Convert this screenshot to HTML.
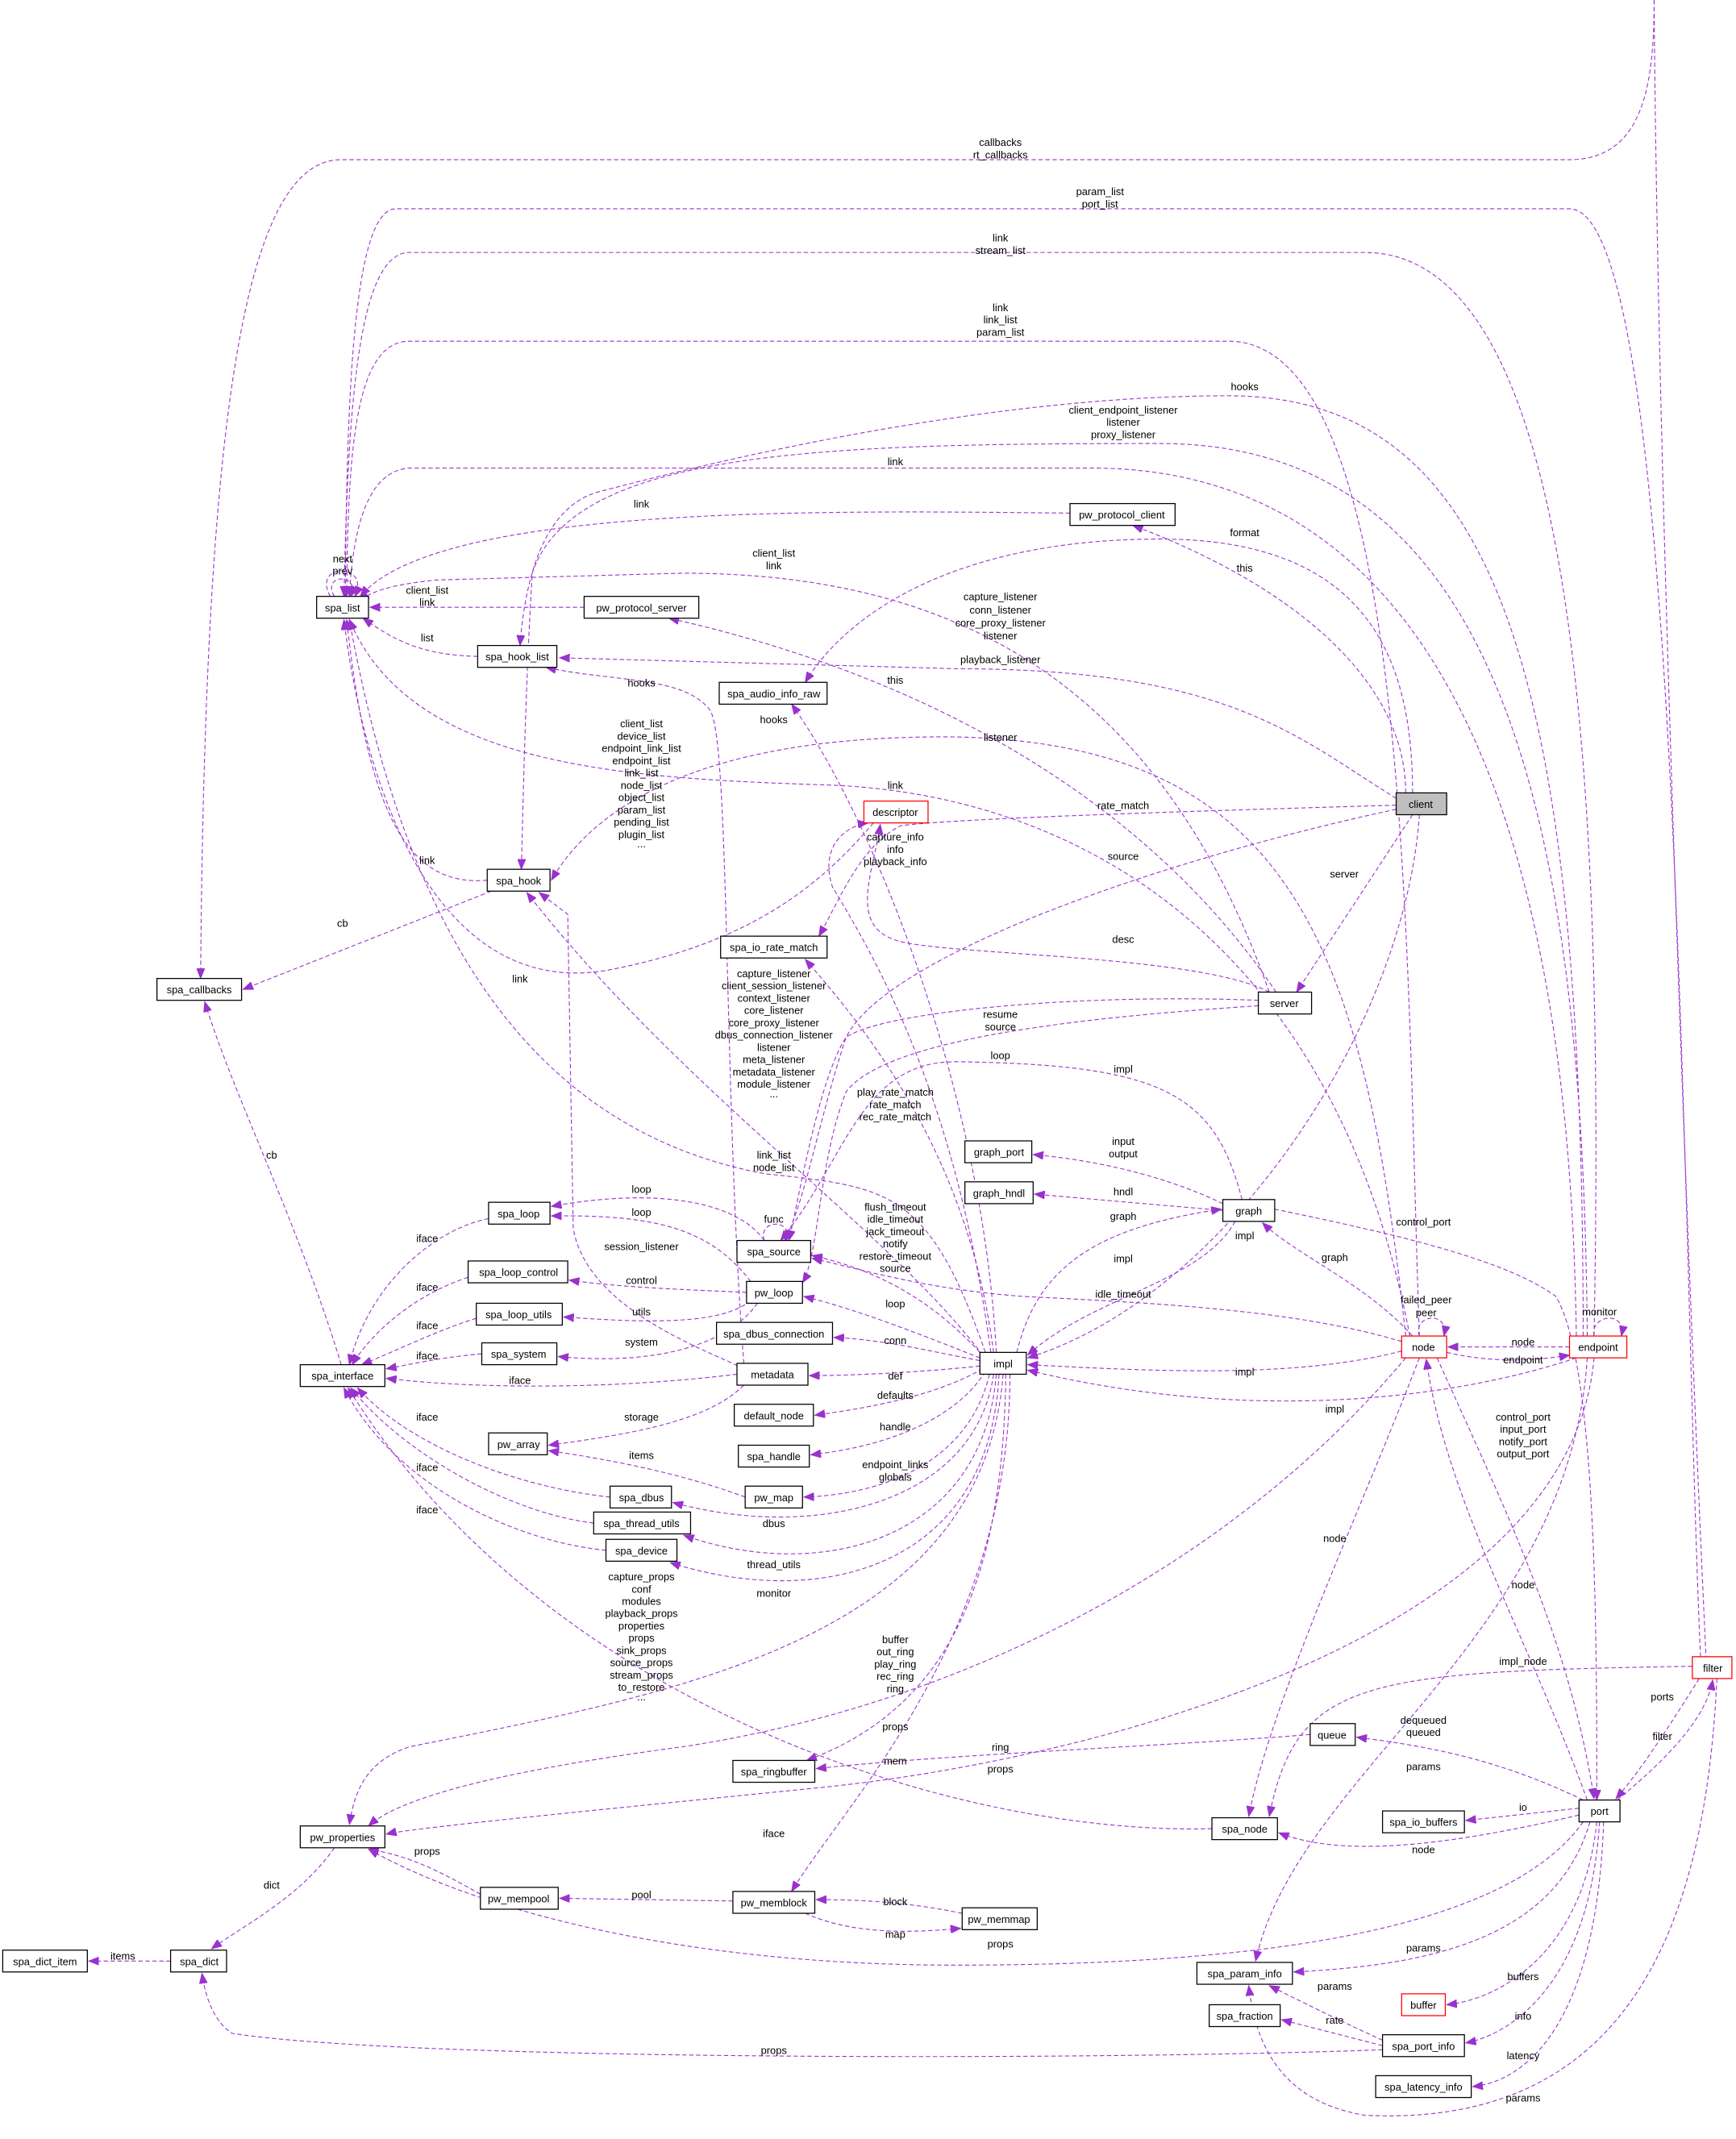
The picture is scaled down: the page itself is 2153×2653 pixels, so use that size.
<!DOCTYPE html>
<html><head><meta charset="utf-8"><style>
html,body{margin:0;padding:0;background:#fff;}
svg{display:block;}
text{font-family:"Liberation Sans",Arial,sans-serif;font-size:7.6px;fill:#000;text-anchor:middle;}
.e{fill:none;stroke:#9a32cd;stroke-width:0.65;stroke-dasharray:3.2,1.9;marker-end:url(#a);}
.b{fill:#fff;stroke:#000;stroke-width:0.75;}
.r{fill:#fff;stroke:#ff0000;stroke-width:0.75;}
.g{fill:#bfbfbf;stroke:#000;stroke-width:0.75;}
</style></head><body>
<svg width="2153" height="2653" viewBox="0 0 1272 1567.4" xmlns="http://www.w3.org/2000/svg">
<defs><marker id="a" markerUnits="userSpaceOnUse" markerWidth="8" markerHeight="6" refX="7.5" refY="3" orient="auto"><path d="M0,0 L7.5,3 L0,6 z" fill="#9a32cd" stroke="#9a32cd" stroke-width="0.5"/></marker></defs>
<g>
<path class="e" d="M1212,0 C1212,60 1205,117 1150,117 L250,117 C180,117 150,300 147,717"/>
<path class="e" d="M1212,0 C1215,400 1240,1000 1250,1214" style="marker-end:none"/>
<path class="e" d="M1246,1214 C1232,900 1232,153 1150,153 L290,153 C258,153 254,300 253,437"/>
<path class="e" d="M1168,979 C1175,600 1160,185 1000,185 L300,185 C262,185 255,300 252,437"/>
<path class="e" d="M1040,979 C1030,700 1035,250 900,250 L300,250 C260,250 255,330 254,437"/>
<path class="e" d="M1160,979 C1160,500 1100,290 900,290 C700,290 480,350 440,360 C400,370 385,420 381,473"/>
<path class="e" d="M1163,979 C1160,600 1100,325 850,325 C600,325 420,330 390,420 C385,500 383,600 382,637"/>
<path class="e" d="M1155,979 C1150,600 1050,343 800,343 L300,343 C265,345 258,400 256,437"/>
<path class="e" d="M784,376 C600,374 320,370 264,437"/>
<path class="e" d="M1035,581 C1035,480 1000,395 850,395 C700,395 620,450 590,500"/>
<path class="e" d="M1030,581 C1030,500 950,430 830,385"/>
<path class="e" d="M930,727 C850,500 700,420 500,420 L320,425 C290,428 275,432 263,440"/>
<path class="e" d="M428,445 L271,445"/>
<path class="e" d="M350,481 C310,480 290,470 266,453"/>
<path class="e" d="M1023,585 C950,540 900,490 700,490 L410,482"/>
<path class="e" d="M935,727 C850,600 700,500 490,453"/>
<path class="e" d="M545,999 C530,800 535,540 520,520 C500,495 450,500 400,489"/>
<path class="e" d="M730,991 C720,800 640,600 580,516"/>
<path class="e" d="M245,437 C235,420 265,420 257,437"/>
<path class="e" d="M242,437 C228,412 272,412 260,437"/>
<path class="e" d="M1030,979 C1000,700 950,545 700,540 C500,538 430,600 404,645"/>
<path class="e" d="M1033,979 C980,700 800,580 600,575 C450,570 300,560 256,454"/>
<path class="e" d="M640,603 C600,650 550,690 450,710 C330,735 270,600 252,454"/>
<path class="e" d="M357,645 C300,650 270,600 254,454"/>
<path class="e" d="M360,653 L178,725"/>
<path class="e" d="M1023,590 C850,595 700,600 660,605 C630,620 615,660 600,686"/>
<path class="e" d="M930,727 C880,700 700,700 660,690 C620,680 640,640 645,604"/>
<path class="e" d="M1023,593 C850,630 650,700 620,760 C600,820 590,880 575,909"/>
<path class="e" d="M1035,597 L950,727"/>
<path class="e" d="M1040,597 C1030,750 900,950 753,995"/>
<path class="e" d="M726,991 C700,800 640,700 610,650 C600,620 620,605 636,603"/>
<path class="e" d="M720,993 C650,900 500,800 386,654"/>
<path class="e" d="M922,733 C800,728 650,740 620,760 C600,790 585,880 578,909"/>
<path class="e" d="M922,737 C800,745 650,760 620,800 C600,850 600,920 588,940"/>
<path class="e" d="M910,879 C890,800 850,780 700,778 C630,778 620,850 572,909"/>
<path class="e" d="M728,991 C710,850 640,760 590,703"/>
<path class="e" d="M722,991 C680,870 650,870 560,860 C400,830 300,700 256,454"/>
<path class="e" d="M896,882 C850,860 800,850 757,846"/>
<path class="e" d="M896,887 L758,875"/>
<path class="e" d="M745,991 C760,930 800,900 895,886"/>
<path class="e" d="M905,895 C880,940 800,950 753,993"/>
<path class="e" d="M1035,979 C1000,940 950,920 925,896"/>
<path class="e" d="M934,886 C1000,900 1100,920 1140,950 C1170,1000 1170,1200 1170,1319"/>
<path class="e" d="M718,991 C680,950 640,930 595,920"/>
<path class="e" d="M560,909 C540,880 480,870 404,884"/>
<path class="e" d="M550,939 C520,900 480,890 404,891"/>
<path class="e" d="M560,909 C555,893 582,893 576,909"/>
<path class="e" d="M545,1003 C520,990 430,960 420,900 L416,670 L395,654"/>
<path class="e" d="M547,947 C500,945 450,943 417,938"/>
<path class="e" d="M550,953 C530,970 480,970 413,965"/>
<path class="e" d="M555,955 C530,990 470,1000 409,994"/>
<path class="e" d="M1027,983 C950,960 850,955 750,950 C680,945 630,930 595,922"/>
<path class="e" d="M718,995 C680,980 630,960 589,950"/>
<path class="e" d="M718,997 C680,990 650,982 611,980"/>
<path class="e" d="M358,893 C320,900 270,940 256,1000"/>
<path class="e" d="M343,936 C300,950 270,980 258,1000"/>
<path class="e" d="M349,966 C320,975 290,990 265,1000"/>
<path class="e" d="M353,992 C320,995 300,1000 283,1003"/>
<path class="e" d="M540,1007 C450,1018 350,1018 283,1010"/>
<path class="e" d="M447,1097 C380,1090 300,1060 262,1017"/>
<path class="e" d="M435,1116 C380,1110 300,1070 257,1017"/>
<path class="e" d="M444,1136 C380,1130 290,1090 252,1017"/>
<path class="e" d="M1040,979 C1035,963 1062,960 1058,979"/>
<path class="e" d="M1168,979 C1165,963 1192,960 1188,979"/>
<path class="e" d="M1150,987 L1061,987"/>
<path class="e" d="M1060,991 C1090,998 1120,998 1150,993"/>
<path class="e" d="M1027,990 C950,1010 850,1005 753,1000"/>
<path class="e" d="M1155,995 C1050,1030 900,1040 753,1004"/>
<path class="e" d="M718,1001 C680,1005 630,1008 593,1008"/>
<path class="e" d="M720,1003 C690,1020 650,1030 597,1037"/>
<path class="e" d="M722,1005 C700,1040 650,1060 594,1066"/>
<path class="e" d="M545,1015 C520,1040 470,1050 402,1059"/>
<path class="e" d="M546,1097 C500,1080 450,1070 402,1063"/>
<path class="e" d="M725,1007 C710,1070 650,1095 589,1097"/>
<path class="e" d="M728,1007 C715,1100 600,1130 493,1101"/>
<path class="e" d="M730,1007 C720,1130 600,1160 501,1125"/>
<path class="e" d="M732,1007 C725,1150 600,1180 491,1145"/>
<path class="e" d="M735,1007 C720,1200 500,1240 300,1280 C270,1290 260,1310 256,1337"/>
<path class="e" d="M737,1007 C735,1150 700,1250 591,1290"/>
<path class="e" d="M1030,995 C900,1150 700,1250 500,1280 C350,1300 290,1320 270,1338"/>
<path class="e" d="M740,1007 C740,1200 620,1320 580,1386"/>
<path class="e" d="M1168,995 C1150,1200 800,1290 600,1310 C400,1330 300,1340 283,1344"/>
<path class="e" d="M960,1271 C850,1280 700,1285 598,1296"/>
<path class="e" d="M1053,995 C1100,1100 1150,1200 1168,1318"/>
<path class="e" d="M1163,1319 C1120,1200 1060,1100 1045,996"/>
<path class="e" d="M1040,995 C1000,1100 930,1250 915,1331"/>
<path class="e" d="M1240,1221 C1000,1225 950,1230 930,1331"/>
<path class="e" d="M1160,1319 C1100,1290 1050,1280 994,1273"/>
<path class="e" d="M1245,1230 C1220,1270 1200,1300 1184,1318"/>
<path class="e" d="M1185,1319 C1220,1290 1250,1260 1255,1231"/>
<path class="e" d="M1163,995 C1150,1200 950,1300 920,1437"/>
<path class="e" d="M1157,1325 L1074,1334"/>
<path class="e" d="M1157,1330 C1050,1355 980,1360 937,1343"/>
<path class="e" d="M888,1340 C700,1345 400,1250 255,1017"/>
<path class="e" d="M352,1388 C320,1370 300,1360 270,1355"/>
<path class="e" d="M245,1354 C220,1390 180,1410 155,1428"/>
<path class="e" d="M125,1437 L65,1437"/>
<path class="e" d="M537,1393 L410,1391"/>
<path class="e" d="M705,1402 C670,1395 640,1392 598,1392"/>
<path class="e" d="M590,1402 C630,1420 680,1415 704,1413"/>
<path class="e" d="M1160,1335 C1100,1420 900,1440 700,1440 C500,1440 350,1400 270,1355"/>
<path class="e" d="M1165,1335 C1140,1420 1050,1440 948,1445"/>
<path class="e" d="M1170,1335 C1160,1430 1100,1465 1060,1469"/>
<path class="e" d="M1172,1335 C1165,1450 1110,1490 1074,1497"/>
<path class="e" d="M1175,1335 C1170,1480 1120,1525 1079,1529"/>
<path class="e" d="M1258,1230 C1250,1400 1200,1560 1000,1550 C940,1540 920,1500 915,1455"/>
<path class="e" d="M1013,1495 C980,1480 950,1465 930,1455"/>
<path class="e" d="M1013,1499 L939,1480"/>
<path class="e" d="M1013,1502 C800,1510 300,1510 170,1490 C155,1480 150,1460 148,1446"/>
<path class="e" d="M250,1000 C220,900 170,800 150,734"/>
</g>
<g>
<rect class="b" x="232" y="437" width="38" height="16"/><text x="251" y="448">spa_list</text>
<rect class="b" x="115" y="717" width="62" height="16"/><text x="146" y="728">spa_callbacks</text>
<rect class="b" x="350" y="473" width="58" height="16"/><text x="379" y="484">spa_hook_list</text>
<rect class="b" x="357" y="637" width="46" height="16"/><text x="380" y="648">spa_hook</text>
<rect class="b" x="428" y="437" width="84" height="16"/><text x="470" y="448">pw_protocol_server</text>
<rect class="b" x="784" y="369" width="77" height="16"/><text x="822" y="380">pw_protocol_client</text>
<rect class="b" x="527" y="500" width="79" height="16"/><text x="567" y="511">spa_audio_info_raw</text>
<rect class="r" x="633" y="587" width="47" height="16"/><text x="656" y="598">descriptor</text>
<rect class="g" x="1023" y="581" width="37" height="16"/><text x="1041" y="592">client</text>
<rect class="b" x="528" y="686" width="78" height="16"/><text x="567" y="697">spa_io_rate_match</text>
<rect class="b" x="922" y="727" width="39" height="16"/><text x="941" y="738">server</text>
<rect class="b" x="707" y="836" width="49" height="16"/><text x="732" y="847">graph_port</text>
<rect class="b" x="707" y="866" width="50" height="16"/><text x="732" y="877">graph_hndl</text>
<rect class="b" x="896" y="879" width="38" height="16"/><text x="915" y="890">graph</text>
<rect class="b" x="358" y="881" width="45" height="16"/><text x="380" y="892">spa_loop</text>
<rect class="b" x="343" y="924" width="73" height="16"/><text x="380" y="935">spa_loop_control</text>
<rect class="b" x="349" y="955" width="63" height="16"/><text x="380" y="966">spa_loop_utils</text>
<rect class="b" x="353" y="984" width="55" height="16"/><text x="380" y="995">spa_system</text>
<rect class="b" x="220" y="1000" width="62" height="16"/><text x="251" y="1011">spa_interface</text>
<rect class="b" x="540" y="909" width="54" height="16"/><text x="567" y="920">spa_source</text>
<rect class="b" x="547" y="939" width="41" height="16"/><text x="567" y="950">pw_loop</text>
<rect class="b" x="525" y="969" width="85" height="16"/><text x="567" y="980">spa_dbus_connection</text>
<rect class="b" x="540" y="999" width="52" height="16"/><text x="566" y="1010">metadata</text>
<rect class="b" x="718" y="991" width="34" height="16"/><text x="735" y="1002">impl</text>
<rect class="r" x="1027" y="979" width="33" height="16"/><text x="1043" y="990">node</text>
<rect class="r" x="1150" y="979" width="42" height="16"/><text x="1171" y="990">endpoint</text>
<rect class="b" x="538" y="1029" width="58" height="16"/><text x="567" y="1040">default_node</text>
<rect class="b" x="541" y="1059" width="52" height="16"/><text x="567" y="1070">spa_handle</text>
<rect class="b" x="358" y="1050" width="43" height="16"/><text x="380" y="1061">pw_array</text>
<rect class="b" x="546" y="1089" width="42" height="16"/><text x="567" y="1100">pw_map</text>
<rect class="b" x="447" y="1089" width="45" height="16"/><text x="470" y="1100">spa_dbus</text>
<rect class="b" x="435" y="1108" width="71" height="16"/><text x="470" y="1119">spa_thread_utils</text>
<rect class="b" x="444" y="1128" width="52" height="16"/><text x="470" y="1139">spa_device</text>
<rect class="r" x="1240" y="1214" width="29" height="16"/><text x="1255" y="1225">filter</text>
<rect class="b" x="960" y="1263" width="33" height="16"/><text x="976" y="1274">queue</text>
<rect class="b" x="537" y="1290" width="60" height="16"/><text x="567" y="1301">spa_ringbuffer</text>
<rect class="b" x="1157" y="1319" width="30" height="16"/><text x="1172" y="1330">port</text>
<rect class="b" x="1013" y="1327" width="60" height="16"/><text x="1043" y="1338">spa_io_buffers</text>
<rect class="b" x="888" y="1332" width="48" height="16"/><text x="912" y="1343">spa_node</text>
<rect class="b" x="220" y="1338" width="62" height="16"/><text x="251" y="1349">pw_properties</text>
<rect class="b" x="352" y="1383" width="57" height="16"/><text x="380" y="1394">pw_mempool</text>
<rect class="b" x="537" y="1386" width="60" height="16"/><text x="567" y="1397">pw_memblock</text>
<rect class="b" x="705" y="1398" width="55" height="16"/><text x="732" y="1409">pw_memmap</text>
<rect class="b" x="2" y="1429" width="62" height="16"/><text x="33" y="1440">spa_dict_item</text>
<rect class="b" x="125" y="1429" width="41" height="16"/><text x="146" y="1440">spa_dict</text>
<rect class="b" x="877" y="1438" width="70" height="16"/><text x="912" y="1449">spa_param_info</text>
<rect class="r" x="1027" y="1461" width="32" height="16"/><text x="1043" y="1472">buffer</text>
<rect class="b" x="886" y="1469" width="52" height="16"/><text x="912" y="1480">spa_fraction</text>
<rect class="b" x="1013" y="1491" width="60" height="16"/><text x="1043" y="1502">spa_port_info</text>
<rect class="b" x="1008" y="1521" width="70" height="16"/><text x="1043" y="1532">spa_latency_info</text>
</g>
<g>
<text x="733" y="107">callbacks</text><text x="733" y="116">rt_callbacks</text>
<text x="806" y="143">param_list</text><text x="806" y="152">port_list</text>
<text x="733" y="177">link</text><text x="733" y="186">stream_list</text>
<text x="733" y="228">link</text><text x="733" y="237">link_list</text><text x="733" y="246">param_list</text>
<text x="912" y="286">hooks</text>
<text x="823" y="303">client_endpoint_listener</text><text x="823" y="312">listener</text><text x="823" y="321">proxy_listener</text>
<text x="656" y="341">link</text>
<text x="470" y="372">link</text>
<text x="912" y="393">format</text>
<text x="912" y="419">this</text>
<text x="251" y="412">next</text><text x="251" y="421">prev</text>
<text x="567" y="408">client_list</text><text x="567" y="417">link</text>
<text x="313" y="435">client_list</text><text x="313" y="444">link</text>
<text x="733" y="440">capture_listener</text><text x="733" y="449.5">conn_listener</text><text x="733" y="459">core_proxy_listener</text><text x="733" y="468.5">listener</text><text x="733" y="486">playback_listener</text>
<text x="313" y="470">list</text>
<text x="656" y="501">this</text>
<text x="470" y="503">hooks</text>
<text x="567" y="530">hooks</text>
<text x="470" y="533">client_list</text><text x="470" y="542">device_list</text><text x="470" y="551">endpoint_link_list</text><text x="470" y="560">endpoint_list</text><text x="470" y="569">link_list</text><text x="470" y="578">node_list</text><text x="470" y="587">object_list</text><text x="470" y="596">param_list</text><text x="470" y="605">pending_list</text><text x="470" y="614">plugin_list</text><text x="470" y="621">...</text>
<text x="733" y="543">listener</text>
<text x="656" y="578">link</text>
<text x="823" y="593">rate_match</text>
<text x="656" y="616">capture_info</text><text x="656" y="625">info</text><text x="656" y="634">playback_info</text>
<text x="823" y="630">source</text>
<text x="313" y="633">link</text>
<text x="985" y="643">server</text>
<text x="251" y="679">cb</text>
<text x="823" y="691">desc</text>
<text x="381" y="720">link</text>
<text x="567" y="716">capture_listener</text><text x="567" y="725">client_session_listener</text><text x="567" y="734">context_listener</text><text x="567" y="743">core_listener</text><text x="567" y="752">core_proxy_listener</text><text x="567" y="761">dbus_connection_listener</text><text x="567" y="770">listener</text><text x="567" y="779">meta_listener</text><text x="567" y="788">metadata_listener</text><text x="567" y="797">module_listener</text><text x="567" y="804">...</text>
<text x="733" y="746">resume</text><text x="733" y="755">source</text>
<text x="733" y="776">loop</text>
<text x="823" y="786">impl</text>
<text x="656" y="803">play_rate_match</text><text x="656" y="812">rate_match</text><text x="656" y="821">rec_rate_match</text>
<text x="823" y="839">input</text><text x="823" y="848">output</text>
<text x="199" y="849">cb</text>
<text x="567" y="849">link_list</text><text x="567" y="858">node_list</text>
<text x="470" y="874">loop</text>
<text x="823" y="876">hndl</text>
<text x="656" y="887">flush_timeout</text><text x="656" y="896">idle_timeout</text><text x="656" y="905">jack_timeout</text><text x="656" y="914">notify</text><text x="656" y="923">restore_timeout</text><text x="656" y="932">source</text>
<text x="470" y="891">loop</text>
<text x="823" y="894">graph</text>
<text x="1043" y="898">control_port</text>
<text x="567" y="896">func</text>
<text x="912" y="908">impl</text>
<text x="313" y="910">iface</text>
<text x="470" y="916">session_listener</text>
<text x="978" y="924">graph</text>
<text x="823" y="925">impl</text>
<text x="470" y="941">control</text>
<text x="313" y="946">iface</text>
<text x="823" y="951">idle_timeout</text>
<text x="656" y="958">loop</text>
<text x="470" y="964">utils</text>
<text x="1172" y="964">monitor</text>
<text x="313" y="974">iface</text>
<text x="1045" y="955">failed_peer</text><text x="1045" y="964.5">peer</text>
<text x="656" y="985">conn</text>
<text x="470" y="986">system</text>
<text x="1116" y="986">node</text>
<text x="313" y="996">iface</text>
<text x="1116" y="999">endpoint</text>
<text x="912" y="1008">impl</text>
<text x="656" y="1011">def</text>
<text x="381" y="1014">iface</text>
<text x="656" y="1025">defaults</text>
<text x="978" y="1035">impl</text>
<text x="470" y="1041">storage</text>
<text x="313" y="1041">iface</text>
<text x="1116" y="1041">control_port</text><text x="1116" y="1050">input_port</text><text x="1116" y="1059">notify_port</text><text x="1116" y="1068">output_port</text>
<text x="656" y="1048">handle</text>
<text x="470" y="1069">items</text>
<text x="656" y="1076">endpoint_links</text><text x="656" y="1085">globals</text>
<text x="313" y="1078">iface</text>
<text x="313" y="1109">iface</text>
<text x="567" y="1119">dbus</text>
<text x="978" y="1130">node</text>
<text x="567" y="1149">thread_utils</text>
<text x="470" y="1158">capture_props</text><text x="470" y="1167">conf</text><text x="470" y="1176">modules</text><text x="470" y="1185">playback_props</text><text x="470" y="1194">properties</text><text x="470" y="1203">props</text><text x="470" y="1212">sink_props</text><text x="470" y="1221">source_props</text><text x="470" y="1230">stream_props</text><text x="470" y="1239">to_restore</text><text x="470" y="1246">...</text>
<text x="1116" y="1164">node</text>
<text x="567" y="1170">monitor</text>
<text x="656" y="1204">buffer</text><text x="656" y="1213">out_ring</text><text x="656" y="1222">play_ring</text><text x="656" y="1231">rec_ring</text><text x="656" y="1240">ring</text>
<text x="1116" y="1220">impl_node</text>
<text x="1218" y="1246">ports</text>
<text x="1043" y="1263">dequeued</text><text x="1043" y="1272">queued</text>
<text x="656" y="1268">props</text>
<text x="1218" y="1275">filter</text>
<text x="733" y="1283">ring</text>
<text x="656" y="1293">mem</text>
<text x="1043" y="1297">params</text>
<text x="733" y="1299">props</text>
<text x="1116" y="1327">io</text>
<text x="567" y="1346">iface</text>
<text x="1043" y="1358">node</text>
<text x="313" y="1359">props</text>
<text x="199" y="1384">dict</text>
<text x="470" y="1391">pool</text>
<text x="656" y="1396">block</text>
<text x="656" y="1420">map</text>
<text x="733" y="1427">props</text>
<text x="1043" y="1430">params</text>
<text x="90" y="1436">items</text>
<text x="1116" y="1451">buffers</text>
<text x="978" y="1458">params</text>
<text x="1116" y="1480">info</text>
<text x="978" y="1483">rate</text>
<text x="567" y="1505">props</text>
<text x="1116" y="1509">latency</text>
<text x="1116" y="1540">params</text>
</g>
</svg>
</body></html>
